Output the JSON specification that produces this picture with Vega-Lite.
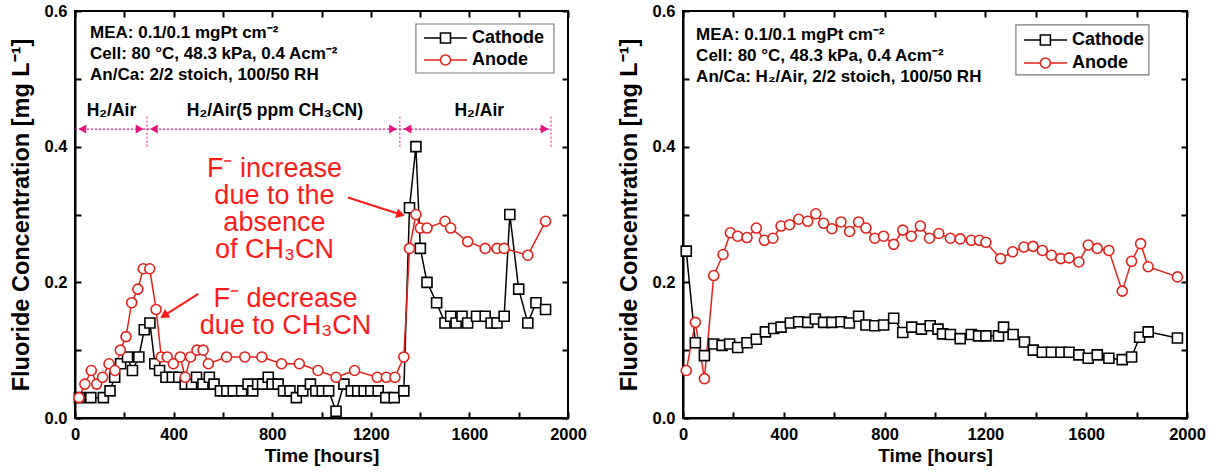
{
"$schema": "https://vega.github.io/schema/vega-lite/v6.json",
"background": "white",
"padding": {"left": 8, "top": 2, "right": 2, "bottom": 2},
"spacing": 115,
"bounds": "flush",
"resolve": {"scale": {"shape": "independent", "stroke": "independent", "color": "independent"}},
"datasets": {
"L": [
{"t":18,"v":0.03,"s":"Cathode"},{"t":64,"v":0.03,"s":"Cathode"},{"t":115,"v":0.03,"s":"Cathode"},{"t":142,"v":0.04,"s":"Cathode"},{"t":161,"v":0.06,"s":"Cathode"},{"t":185,"v":0.08,"s":"Cathode"},{"t":213,"v":0.09,"s":"Cathode"},{"t":233,"v":0.07,"s":"Cathode"},{"t":259,"v":0.09,"s":"Cathode"},{"t":281,"v":0.13,"s":"Cathode"},{"t":304,"v":0.14,"s":"Cathode"},{"t":324,"v":0.08,"s":"Cathode"},{"t":343,"v":0.07,"s":"Cathode"},{"t":369,"v":0.06,"s":"Cathode"},{"t":395,"v":0.06,"s":"Cathode"},{"t":421,"v":0.06,"s":"Cathode"},{"t":447,"v":0.05,"s":"Cathode"},{"t":473,"v":0.05,"s":"Cathode"},{"t":493,"v":0.06,"s":"Cathode"},{"t":519,"v":0.05,"s":"Cathode"},{"t":545,"v":0.06,"s":"Cathode"},{"t":564,"v":0.05,"s":"Cathode"},{"t":590,"v":0.04,"s":"Cathode"},{"t":616,"v":0.04,"s":"Cathode"},{"t":642,"v":0.04,"s":"Cathode"},{"t":676,"v":0.04,"s":"Cathode"},{"t":702,"v":0.05,"s":"Cathode"},{"t":721,"v":0.04,"s":"Cathode"},{"t":741,"v":0.05,"s":"Cathode"},{"t":761,"v":0.05,"s":"Cathode"},{"t":784,"v":0.06,"s":"Cathode"},{"t":800,"v":0.05,"s":"Cathode"},{"t":824,"v":0.05,"s":"Cathode"},{"t":846,"v":0.04,"s":"Cathode"},{"t":872,"v":0.04,"s":"Cathode"},{"t":898,"v":0.03,"s":"Cathode"},{"t":924,"v":0.04,"s":"Cathode"},{"t":955,"v":0.05,"s":"Cathode"},{"t":977,"v":0.04,"s":"Cathode"},{"t":1003,"v":0.04,"s":"Cathode"},{"t":1029,"v":0.04,"s":"Cathode"},{"t":1059,"v":0.01,"s":"Cathode"},{"t":1091,"v":0.05,"s":"Cathode"},{"t":1121,"v":0.04,"s":"Cathode"},{"t":1147,"v":0.04,"s":"Cathode"},{"t":1173,"v":0.04,"s":"Cathode"},{"t":1200,"v":0.04,"s":"Cathode"},{"t":1230,"v":0.04,"s":"Cathode"},{"t":1261,"v":0.03,"s":"Cathode"},{"t":1295,"v":0.03,"s":"Cathode"},{"t":1334,"v":0.04,"s":"Cathode"},{"t":1357,"v":0.31,"s":"Cathode"},{"t":1383,"v":0.40,"s":"Cathode"},{"t":1401,"v":0.25,"s":"Cathode"},{"t":1428,"v":0.20,"s":"Cathode"},{"t":1467,"v":0.17,"s":"Cathode"},{"t":1501,"v":0.14,"s":"Cathode"},{"t":1524,"v":0.15,"s":"Cathode"},{"t":1546,"v":0.14,"s":"Cathode"},{"t":1570,"v":0.15,"s":"Cathode"},{"t":1593,"v":0.14,"s":"Cathode"},{"t":1629,"v":0.15,"s":"Cathode"},{"t":1664,"v":0.15,"s":"Cathode"},{"t":1688,"v":0.14,"s":"Cathode"},{"t":1712,"v":0.14,"s":"Cathode"},{"t":1741,"v":0.15,"s":"Cathode"},{"t":1764,"v":0.30,"s":"Cathode"},{"t":1800,"v":0.19,"s":"Cathode"},{"t":1837,"v":0.14,"s":"Cathode"},{"t":1870,"v":0.17,"s":"Cathode"},{"t":1909,"v":0.16,"s":"Cathode"},
{"t":16,"v":0.03,"s":"Anode"},{"t":40,"v":0.05,"s":"Anode"},{"t":66,"v":0.07,"s":"Anode"},{"t":88,"v":0.05,"s":"Anode"},{"t":112,"v":0.06,"s":"Anode"},{"t":138,"v":0.08,"s":"Anode"},{"t":162,"v":0.07,"s":"Anode"},{"t":184,"v":0.10,"s":"Anode"},{"t":207,"v":0.12,"s":"Anode"},{"t":230,"v":0.17,"s":"Anode"},{"t":255,"v":0.19,"s":"Anode"},{"t":277,"v":0.22,"s":"Anode"},{"t":303,"v":0.22,"s":"Anode"},{"t":329,"v":0.16,"s":"Anode"},{"t":350,"v":0.09,"s":"Anode"},{"t":374,"v":0.09,"s":"Anode"},{"t":399,"v":0.08,"s":"Anode"},{"t":427,"v":0.09,"s":"Anode"},{"t":447,"v":0.06,"s":"Anode"},{"t":469,"v":0.09,"s":"Anode"},{"t":495,"v":0.10,"s":"Anode"},{"t":520,"v":0.10,"s":"Anode"},{"t":541,"v":0.08,"s":"Anode"},{"t":615,"v":0.09,"s":"Anode"},{"t":689,"v":0.09,"s":"Anode"},{"t":758,"v":0.09,"s":"Anode"},{"t":838,"v":0.08,"s":"Anode"},{"t":910,"v":0.08,"s":"Anode"},{"t":986,"v":0.07,"s":"Anode"},{"t":1059,"v":0.06,"s":"Anode"},{"t":1134,"v":0.07,"s":"Anode"},{"t":1226,"v":0.06,"s":"Anode"},{"t":1263,"v":0.06,"s":"Anode"},{"t":1298,"v":0.06,"s":"Anode"},{"t":1334,"v":0.09,"s":"Anode"},{"t":1357,"v":0.25,"s":"Anode"},{"t":1383,"v":0.30,"s":"Anode"},{"t":1401,"v":0.28,"s":"Anode"},{"t":1428,"v":0.28,"s":"Anode"},{"t":1501,"v":0.29,"s":"Anode"},{"t":1524,"v":0.28,"s":"Anode"},{"t":1593,"v":0.26,"s":"Anode"},{"t":1664,"v":0.25,"s":"Anode"},{"t":1712,"v":0.25,"s":"Anode"},{"t":1741,"v":0.25,"s":"Anode"},{"t":1837,"v":0.24,"s":"Anode"},{"t":1909,"v":0.29,"s":"Anode"}
],
"R": [
{"t":13,"v":0.246,"s":"Cathode"},{"t":49,"v":0.111,"s":"Cathode"},{"t":85,"v":0.092,"s":"Cathode"},{"t":122,"v":0.109,"s":"Cathode"},{"t":155,"v":0.107,"s":"Cathode"},{"t":185,"v":0.109,"s":"Cathode"},{"t":217,"v":0.104,"s":"Cathode"},{"t":254,"v":0.111,"s":"Cathode"},{"t":291,"v":0.116,"s":"Cathode"},{"t":327,"v":0.127,"s":"Cathode"},{"t":360,"v":0.132,"s":"Cathode"},{"t":389,"v":0.134,"s":"Cathode"},{"t":426,"v":0.140,"s":"Cathode"},{"t":459,"v":0.142,"s":"Cathode"},{"t":495,"v":0.141,"s":"Cathode"},{"t":525,"v":0.146,"s":"Cathode"},{"t":558,"v":0.141,"s":"Cathode"},{"t":591,"v":0.141,"s":"Cathode"},{"t":627,"v":0.142,"s":"Cathode"},{"t":660,"v":0.140,"s":"Cathode"},{"t":697,"v":0.150,"s":"Cathode"},{"t":726,"v":0.137,"s":"Cathode"},{"t":761,"v":0.136,"s":"Cathode"},{"t":796,"v":0.137,"s":"Cathode"},{"t":836,"v":0.147,"s":"Cathode"},{"t":872,"v":0.126,"s":"Cathode"},{"t":908,"v":0.134,"s":"Cathode"},{"t":946,"v":0.131,"s":"Cathode"},{"t":981,"v":0.136,"s":"Cathode"},{"t":1012,"v":0.131,"s":"Cathode"},{"t":1030,"v":0.124,"s":"Cathode"},{"t":1061,"v":0.123,"s":"Cathode"},{"t":1100,"v":0.117,"s":"Cathode"},{"t":1144,"v":0.123,"s":"Cathode"},{"t":1173,"v":0.121,"s":"Cathode"},{"t":1202,"v":0.121,"s":"Cathode"},{"t":1252,"v":0.121,"s":"Cathode"},{"t":1272,"v":0.134,"s":"Cathode"},{"t":1310,"v":0.123,"s":"Cathode"},{"t":1355,"v":0.112,"s":"Cathode"},{"t":1390,"v":0.100,"s":"Cathode"},{"t":1426,"v":0.097,"s":"Cathode"},{"t":1462,"v":0.097,"s":"Cathode"},{"t":1500,"v":0.097,"s":"Cathode"},{"t":1532,"v":0.097,"s":"Cathode"},{"t":1571,"v":0.093,"s":"Cathode"},{"t":1608,"v":0.088,"s":"Cathode"},{"t":1644,"v":0.093,"s":"Cathode"},{"t":1690,"v":0.088,"s":"Cathode"},{"t":1743,"v":0.086,"s":"Cathode"},{"t":1780,"v":0.090,"s":"Cathode"},{"t":1812,"v":0.119,"s":"Cathode"},{"t":1846,"v":0.127,"s":"Cathode"},{"t":1962,"v":0.118,"s":"Cathode"},
{"t":13,"v":0.070,"s":"Anode"},{"t":49,"v":0.141,"s":"Anode"},{"t":85,"v":0.058,"s":"Anode"},{"t":122,"v":0.210,"s":"Anode"},{"t":159,"v":0.241,"s":"Anode"},{"t":188,"v":0.273,"s":"Anode"},{"t":217,"v":0.268,"s":"Anode"},{"t":254,"v":0.266,"s":"Anode"},{"t":291,"v":0.280,"s":"Anode"},{"t":323,"v":0.262,"s":"Anode"},{"t":357,"v":0.265,"s":"Anode"},{"t":389,"v":0.283,"s":"Anode"},{"t":423,"v":0.285,"s":"Anode"},{"t":459,"v":0.293,"s":"Anode"},{"t":495,"v":0.290,"s":"Anode"},{"t":527,"v":0.301,"s":"Anode"},{"t":558,"v":0.287,"s":"Anode"},{"t":591,"v":0.279,"s":"Anode"},{"t":627,"v":0.289,"s":"Anode"},{"t":661,"v":0.275,"s":"Anode"},{"t":697,"v":0.289,"s":"Anode"},{"t":726,"v":0.280,"s":"Anode"},{"t":761,"v":0.265,"s":"Anode"},{"t":796,"v":0.268,"s":"Anode"},{"t":836,"v":0.256,"s":"Anode"},{"t":872,"v":0.277,"s":"Anode"},{"t":906,"v":0.268,"s":"Anode"},{"t":942,"v":0.283,"s":"Anode"},{"t":978,"v":0.265,"s":"Anode"},{"t":1015,"v":0.272,"s":"Anode"},{"t":1061,"v":0.265,"s":"Anode"},{"t":1100,"v":0.264,"s":"Anode"},{"t":1144,"v":0.262,"s":"Anode"},{"t":1176,"v":0.262,"s":"Anode"},{"t":1202,"v":0.259,"s":"Anode"},{"t":1260,"v":0.235,"s":"Anode"},{"t":1308,"v":0.245,"s":"Anode"},{"t":1353,"v":0.252,"s":"Anode"},{"t":1389,"v":0.253,"s":"Anode"},{"t":1426,"v":0.247,"s":"Anode"},{"t":1462,"v":0.240,"s":"Anode"},{"t":1499,"v":0.235,"s":"Anode"},{"t":1532,"v":0.236,"s":"Anode"},{"t":1571,"v":0.230,"s":"Anode"},{"t":1608,"v":0.255,"s":"Anode"},{"t":1644,"v":0.250,"s":"Anode"},{"t":1690,"v":0.247,"s":"Anode"},{"t":1743,"v":0.187,"s":"Anode"},{"t":1780,"v":0.231,"s":"Anode"},{"t":1816,"v":0.257,"s":"Anode"},{"t":1846,"v":0.223,"s":"Anode"},{"t":1962,"v":0.208,"s":"Anode"}
],
"LegL": [{"t":1416,"t2":1590,"tm":1503,"tl":1611,"v":0.5602,"s":"Cathode"},{"t":1416,"t2":1590,"tm":1503,"tl":1611,"v":0.5278,"s":"Anode"}],
"LegR": [{"t":1353,"t2":1524,"tm":1438,"tl":1544,"v":0.5573,"s":"Cathode"},{"t":1353,"t2":1524,"tm":1438,"tl":1544,"v":0.5234,"s":"Anode"}]
},
"hconcat": [
{
"width": 493, "height": 407,
"resolve": {"axis": {"x": "independent", "y": "independent"}},
"layer": [
{"data": {"name": "L"}, "mark": {"type": "line", "strokeWidth": 1.5},
 "encoding": {
  "x": {"field": "t", "type": "quantitative", "scale": {"domain": [0, 2000], "nice": false, "zero": false},
        "axis": {"orient": "bottom", "values": [0,200,400,600,800,1000,1200,1400,1600,1800,2000], "format": "d", "labelExpr": "datum.value % 400 === 0 ? datum.label : ''", "title": "Time [hours]", "tickSize": -6, "labelPadding": 14, "titlePadding": 4, "labelFlush": false, "labelOverlap": false}},
  "y": {"field": "v", "type": "quantitative", "scale": {"domain": [0, 0.6], "nice": false, "zero": false},
        "axis": {"orient": "left", "values": [0,0.1,0.2,0.3,0.4,0.5,0.6], "format": ".1f", "labelExpr": "round(datum.value*10) % 2 === 0 ? datum.label : ''", "title": "Fluoride Concentration [mg L⁻¹]", "titleFontSize": 23.5, "tickSize": -6, "labelPadding": 14, "titlePadding": 11, "labelFlush": false, "labelOverlap": false}},
  "color": {"field": "s", "type": "nominal", "scale": {"domain": ["Cathode", "Anode"], "range": ["#000000", "#e3211c"]}, "legend": null}
 }},
{"data": {"name": "L"}, "mark": {"type": "point", "fill": "white", "fillOpacity": 1, "opacity": 1, "strokeWidth": 1.6, "size": 100},
 "encoding": {
  "x": {"field": "t", "type": "quantitative", "scale": {"domain": [0, 2000], "nice": false, "zero": false},
        "axis": {"orient": "top", "values": [0,200,400,600,800,1000,1200,1400,1600,1800,2000], "labels": false, "title": null, "domain": false, "tickSize": -6}},
  "y": {"field": "v", "type": "quantitative", "scale": {"domain": [0, 0.6], "nice": false, "zero": false},
        "axis": {"orient": "right", "values": [0,0.1,0.2,0.3,0.4,0.5,0.6], "labels": false, "title": null, "domain": false, "tickSize": -6}},
  "shape": {"field": "s", "type": "nominal", "scale": {"domain": ["Cathode", "Anode"], "range": ["square", "circle"]}, "legend": null},
  "stroke": {"field": "s", "type": "nominal", "scale": {"domain": ["Cathode", "Anode"], "range": ["#000000", "#e3211c"]}, "legend": null}
 }},
{"data": {"values": [{"t": 1383, "t2": 1943, "v": 0.5808, "v2": 0.5086}]},
 "mark": {"type": "rect", "fill": "white", "stroke": "#7a7a7a", "strokeWidth": 1.2},
 "encoding": {
  "x": {"field": "t", "type": "quantitative", "scale": {"domain": [0, 2000], "nice": false, "zero": false}, "axis": null},
  "x2": {"field": "t2"},
  "y": {"field": "v", "type": "quantitative", "scale": {"domain": [0, 0.6], "nice": false, "zero": false}, "axis": null},
  "y2": {"field": "v2"}}},
{"data": {"name": "LegL"}, "mark": {"type": "rule", "strokeWidth": 1.5},
 "encoding": {
  "x": {"field": "t", "type": "quantitative", "scale": {"domain": [0, 2000], "nice": false, "zero": false}, "axis": null},
  "x2": {"field": "t2"},
  "y": {"field": "v", "type": "quantitative", "scale": {"domain": [0, 0.6], "nice": false, "zero": false}, "axis": null},
  "color": {"field": "s", "type": "nominal", "scale": {"domain": ["Cathode", "Anode"], "range": ["#000000", "#e3211c"]}, "legend": null}}},
{"data": {"name": "LegL"}, "mark": {"type": "point", "fill": "white", "fillOpacity": 1, "opacity": 1, "strokeWidth": 1.6, "size": 100},
 "encoding": {
  "x": {"field": "tm", "type": "quantitative", "scale": {"domain": [0, 2000], "nice": false, "zero": false}, "axis": null},
  "y": {"field": "v", "type": "quantitative", "scale": {"domain": [0, 0.6], "nice": false, "zero": false}, "axis": null},
  "shape": {"field": "s", "type": "nominal", "scale": {"domain": ["Cathode", "Anode"], "range": ["square", "circle"]}, "legend": null},
  "stroke": {"field": "s", "type": "nominal", "scale": {"domain": ["Cathode", "Anode"], "range": ["#000000", "#e3211c"]}, "legend": null}}},
{"data": {"name": "LegL"}, "mark": {"type": "text", "align": "left", "baseline": "middle", "font": "Liberation Sans", "fontSize": 18, "fontWeight": "bold", "color": "#000"},
 "encoding": {
  "x": {"field": "tl", "type": "quantitative", "scale": {"domain": [0, 2000], "nice": false, "zero": false}, "axis": null},
  "y": {"field": "v", "type": "quantitative", "scale": {"domain": [0, 0.6], "nice": false, "zero": false}, "axis": null},
  "text": {"field": "s"}}},
{"data": {"values": [{"t": 61, "v": 0.58, "txt": "MEA: 0.1/0.1 mgPt cm⁻²\nCell: 80 °C, 48.3 kPa, 0.4 Acm⁻²\nAn/Ca: 2/2 stoich, 100/50 RH"}]},
 "mark": {"type": "text", "align": "left", "baseline": "top", "lineBreak": "\n", "lineHeight": 21, "font": "Liberation Sans", "fontSize": 17, "fontWeight": "bold", "color": "#000"},
 "encoding": {
  "x": {"field": "t", "type": "quantitative", "scale": {"domain": [0, 2000], "nice": false, "zero": false}, "axis": null},
  "y": {"field": "v", "type": "quantitative", "scale": {"domain": [0, 0.6], "nice": false, "zero": false}, "axis": null},
  "text": {"field": "txt"}}},
{"data": {"values": [{"t": 0, "t2": 1931, "v": 0.426}]},
 "mark": {"type": "rule", "color": "#e8127f", "strokeWidth": 1.2, "strokeDash": [2, 2]},
 "encoding": {
  "x": {"field": "t", "type": "quantitative", "scale": {"domain": [0, 2000], "nice": false, "zero": false}, "axis": null},
  "x2": {"field": "t2"},
  "y": {"field": "v", "type": "quantitative", "scale": {"domain": [0, 0.6], "nice": false, "zero": false}, "axis": null}}},
{"data": {"values": [{"t": 292, "v": 0.40, "v2": 0.447}, {"t": 1318, "v": 0.40, "v2": 0.447}, {"t": 1931, "v": 0.40, "v2": 0.447}]},
 "mark": {"type": "rule", "color": "#e8127f", "strokeWidth": 1, "strokeDash": [2, 2]},
 "encoding": {
  "x": {"field": "t", "type": "quantitative", "scale": {"domain": [0, 2000], "nice": false, "zero": false}, "axis": null},
  "y": {"field": "v", "type": "quantitative", "scale": {"domain": [0, 0.6], "nice": false, "zero": false}, "axis": null},
  "y2": {"field": "v2"}}},
{"data": {"values": [{"t": 30, "v": 0.426}, {"t": 320, "v": 0.426}, {"t": 1349, "v": 0.426}]},
 "mark": {"type": "point", "shape": "triangle-left", "filled": true, "color": "#e8127f", "opacity": 1, "size": 80},
 "encoding": {
  "x": {"field": "t", "type": "quantitative", "scale": {"domain": [0, 2000], "nice": false, "zero": false}, "axis": null},
  "y": {"field": "v", "type": "quantitative", "scale": {"domain": [0, 0.6], "nice": false, "zero": false}, "axis": null}}},
{"data": {"values": [{"t": 262, "v": 0.426}, {"t": 1290, "v": 0.426}, {"t": 1905, "v": 0.426}]},
 "mark": {"type": "point", "shape": "triangle-right", "filled": true, "color": "#e8127f", "opacity": 1, "size": 80},
 "encoding": {
  "x": {"field": "t", "type": "quantitative", "scale": {"domain": [0, 2000], "nice": false, "zero": false}, "axis": null},
  "y": {"field": "v", "type": "quantitative", "scale": {"domain": [0, 0.6], "nice": false, "zero": false}, "axis": null}}},
{"data": {"values": [{"t": 148, "v": 0.453, "txt": "H₂/Air"}, {"t": 811, "v": 0.453, "txt": "H₂/Air(5 ppm CH₃CN)"}, {"t": 1640, "v": 0.453, "txt": "H₂/Air"}]},
 "mark": {"type": "text", "align": "center", "baseline": "middle", "font": "Liberation Sans", "fontSize": 17.5, "fontWeight": "bold", "color": "#000"},
 "encoding": {
  "x": {"field": "t", "type": "quantitative", "scale": {"domain": [0, 2000], "nice": false, "zero": false}, "axis": null},
  "y": {"field": "v", "type": "quantitative", "scale": {"domain": [0, 0.6], "nice": false, "zero": false}, "axis": null},
  "text": {"field": "txt"}}},
{"data": {"values": [{"t": 809, "v": 0.3862, "txt": "F⁻ increase\ndue to the\nabsence\nof CH₃CN"}, {"t": 854, "v": 0.1946, "txt": "F⁻ decrease\ndue to CH₃CN"}]},
 "mark": {"type": "text", "align": "center", "baseline": "top", "lineBreak": "\n", "lineHeight": 27, "font": "Liberation Sans", "fontSize": 27, "color": "#ff1a1a"},
 "encoding": {
  "x": {"field": "t", "type": "quantitative", "scale": {"domain": [0, 2000], "nice": false, "zero": false}, "axis": null},
  "y": {"field": "v", "type": "quantitative", "scale": {"domain": [0, 0.6], "nice": false, "zero": false}, "axis": null},
  "text": {"field": "txt"}}},
{"data": {"values": [{"t": 1107, "v": 0.325, "t2": 1321, "v2": 0.300}, {"t": 500, "v": 0.183, "t2": 361, "v2": 0.151}]},
 "mark": {"type": "rule", "color": "#ff1a1a", "strokeWidth": 2},
 "encoding": {
  "x": {"field": "t", "type": "quantitative", "scale": {"domain": [0, 2000], "nice": false, "zero": false}, "axis": null},
  "x2": {"field": "t2"},
  "y": {"field": "v", "type": "quantitative", "scale": {"domain": [0, 0.6], "nice": false, "zero": false}, "axis": null},
  "y2": {"field": "v2"}}},
{"data": {"values": [{"t": 1321, "v": 0.300}]},
 "mark": {"type": "point", "shape": "triangle-right", "angle": 17.7, "filled": true, "color": "#ff1a1a", "opacity": 1, "size": 100},
 "encoding": {
  "x": {"field": "t", "type": "quantitative", "scale": {"domain": [0, 2000], "nice": false, "zero": false}, "axis": null},
  "y": {"field": "v", "type": "quantitative", "scale": {"domain": [0, 0.6], "nice": false, "zero": false}, "axis": null}}},
{"data": {"values": [{"t": 361, "v": 0.151}]},
 "mark": {"type": "point", "shape": "triangle-right", "angle": 147.6, "filled": true, "color": "#ff1a1a", "opacity": 1, "size": 100},
 "encoding": {
  "x": {"field": "t", "type": "quantitative", "scale": {"domain": [0, 2000], "nice": false, "zero": false}, "axis": null},
  "y": {"field": "v", "type": "quantitative", "scale": {"domain": [0, 0.6], "nice": false, "zero": false}, "axis": null}}}
]
},
{
"width": 504, "height": 407,
"resolve": {"axis": {"x": "independent", "y": "independent"}},
"layer": [
{"data": {"name": "R"}, "mark": {"type": "line", "strokeWidth": 1.5},
 "encoding": {
  "x": {"field": "t", "type": "quantitative", "scale": {"domain": [0, 2000], "nice": false, "zero": false},
        "axis": {"orient": "bottom", "values": [0,200,400,600,800,1000,1200,1400,1600,1800,2000], "format": "d", "labelExpr": "datum.value % 400 === 0 ? datum.label : ''", "title": "Time [hours]", "tickSize": -6, "labelPadding": 14, "titlePadding": 4, "labelFlush": false, "labelOverlap": false}},
  "y": {"field": "v", "type": "quantitative", "scale": {"domain": [0, 0.6], "nice": false, "zero": false},
        "axis": {"orient": "left", "values": [0,0.1,0.2,0.3,0.4,0.5,0.6], "format": ".1f", "labelExpr": "round(datum.value*10) % 2 === 0 ? datum.label : ''", "title": "Fluoride Concentration [mg L⁻¹]", "titleFontSize": 23.5, "tickSize": -6, "labelPadding": 14, "titlePadding": 11, "labelFlush": false, "labelOverlap": false}},
  "color": {"field": "s", "type": "nominal", "scale": {"domain": ["Cathode", "Anode"], "range": ["#000000", "#e3211c"]}, "legend": null}
 }},
{"data": {"name": "R"}, "mark": {"type": "point", "fill": "white", "fillOpacity": 1, "opacity": 1, "strokeWidth": 1.6, "size": 100},
 "encoding": {
  "x": {"field": "t", "type": "quantitative", "scale": {"domain": [0, 2000], "nice": false, "zero": false},
        "axis": {"orient": "top", "values": [0,200,400,600,800,1000,1200,1400,1600,1800,2000], "labels": false, "title": null, "domain": false, "tickSize": -6}},
  "y": {"field": "v", "type": "quantitative", "scale": {"domain": [0, 0.6], "nice": false, "zero": false},
        "axis": {"orient": "right", "values": [0,0.1,0.2,0.3,0.4,0.5,0.6], "labels": false, "title": null, "domain": false, "tickSize": -6}},
  "shape": {"field": "s", "type": "nominal", "scale": {"domain": ["Cathode", "Anode"], "range": ["square", "circle"]}, "legend": null},
  "stroke": {"field": "s", "type": "nominal", "scale": {"domain": ["Cathode", "Anode"], "range": ["#000000", "#e3211c"]}, "legend": null}
 }},
{"data": {"values": [{"t": 1321, "t2": 1849, "v": 0.5794, "v2": 0.5057}]},
 "mark": {"type": "rect", "fill": "white", "stroke": "#7a7a7a", "strokeWidth": 1.2},
 "encoding": {
  "x": {"field": "t", "type": "quantitative", "scale": {"domain": [0, 2000], "nice": false, "zero": false}, "axis": null},
  "x2": {"field": "t2"},
  "y": {"field": "v", "type": "quantitative", "scale": {"domain": [0, 0.6], "nice": false, "zero": false}, "axis": null},
  "y2": {"field": "v2"}}},
{"data": {"name": "LegR"}, "mark": {"type": "rule", "strokeWidth": 1.5},
 "encoding": {
  "x": {"field": "t", "type": "quantitative", "scale": {"domain": [0, 2000], "nice": false, "zero": false}, "axis": null},
  "x2": {"field": "t2"},
  "y": {"field": "v", "type": "quantitative", "scale": {"domain": [0, 0.6], "nice": false, "zero": false}, "axis": null},
  "color": {"field": "s", "type": "nominal", "scale": {"domain": ["Cathode", "Anode"], "range": ["#000000", "#e3211c"]}, "legend": null}}},
{"data": {"name": "LegR"}, "mark": {"type": "point", "fill": "white", "fillOpacity": 1, "opacity": 1, "strokeWidth": 1.6, "size": 100},
 "encoding": {
  "x": {"field": "tm", "type": "quantitative", "scale": {"domain": [0, 2000], "nice": false, "zero": false}, "axis": null},
  "y": {"field": "v", "type": "quantitative", "scale": {"domain": [0, 0.6], "nice": false, "zero": false}, "axis": null},
  "shape": {"field": "s", "type": "nominal", "scale": {"domain": ["Cathode", "Anode"], "range": ["square", "circle"]}, "legend": null},
  "stroke": {"field": "s", "type": "nominal", "scale": {"domain": ["Cathode", "Anode"], "range": ["#000000", "#e3211c"]}, "legend": null}}},
{"data": {"name": "LegR"}, "mark": {"type": "text", "align": "left", "baseline": "middle", "font": "Liberation Sans", "fontSize": 18, "fontWeight": "bold", "color": "#000"},
 "encoding": {
  "x": {"field": "tl", "type": "quantitative", "scale": {"domain": [0, 2000], "nice": false, "zero": false}, "axis": null},
  "y": {"field": "v", "type": "quantitative", "scale": {"domain": [0, 0.6], "nice": false, "zero": false}, "axis": null},
  "text": {"field": "s"}}},
{"data": {"values": [{"t": 52, "v": 0.576, "txt": "MEA: 0.1/0.1 mgPt cm⁻²\nCell: 80 °C, 48.3 kPa, 0.4 Acm⁻²\nAn/Ca: H₂/Air, 2/2 stoich, 100/50 RH"}]},
 "mark": {"type": "text", "align": "left", "baseline": "top", "lineBreak": "\n", "lineHeight": 21, "font": "Liberation Sans", "fontSize": 17, "fontWeight": "bold", "color": "#000"},
 "encoding": {
  "x": {"field": "t", "type": "quantitative", "scale": {"domain": [0, 2000], "nice": false, "zero": false}, "axis": null},
  "y": {"field": "v", "type": "quantitative", "scale": {"domain": [0, 0.6], "nice": false, "zero": false}, "axis": null},
  "text": {"field": "txt"}}}
]
}
],
"config": {
  "font": "Liberation Sans",
  "view": {"stroke": "#000", "strokeWidth": 2},
  "axis": {"labelFont": "Liberation Sans", "labelFontSize": 16.5, "labelFontWeight": "bold", "labelColor": "#000", "titleFont": "Liberation Sans", "titleFontSize": 19, "titleFontWeight": "bold", "titleColor": "#000", "tickColor": "#000", "tickWidth": 2, "domainColor": "#000", "domainWidth": 2, "grid": false}
}
}
